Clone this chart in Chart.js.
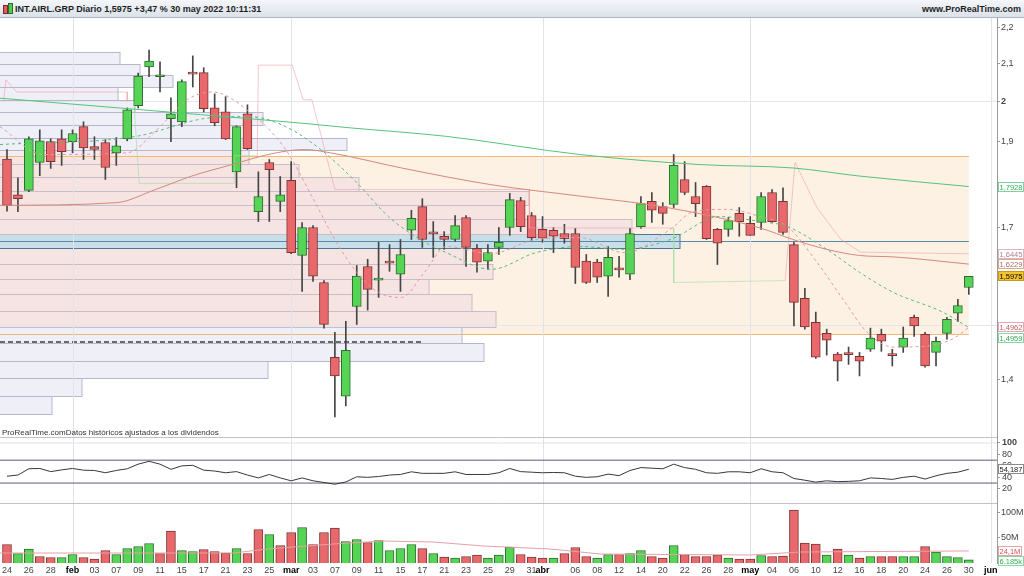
<!DOCTYPE html>
<html lang="es">
<head>
<meta charset="UTF-8">
<title>INT.AIRL.GRP Diario - ProRealTime</title>
<script src="https://cdn.jsdelivr.net/npm/chart.js"></script>
<style>
    body { margin: 0; width: 1024px; height: 576px; overflow: hidden; background: #fff; font-family: "Liberation Sans", Arial, sans-serif; }
    #head { position: absolute; left: 0; top: 0; width: 1024px; height: 17px; background: linear-gradient(#f4f6f9, #dce2ea); border-bottom: 1px solid #aab4c2; font-size: 9px; font-weight: bold; color: #1e1e1e; }
    #head .ttl { position: absolute; left: 15px; top: 4px; }
    #head .site { position: absolute; right: 3px; top: 4px; }
    #head .ico { position: absolute; left: 3px; top: 5px; width: 3px; height: 7px; background: #e5585c; border: 1px solid #7a2a2a; }
    #head .ico2 { left: 8px; top: 3px; height: 9px; background: #4fcf4f; border-color: #2a6a2a; }
    canvas { position: absolute; left: 0; }
    #cPrice { top: 18px; }
    #cRsi { top: 437px; }
    #cVol { top: 503px; }
</style>
</head>
<body>
<div id="head"><span class="ico"></span><span class="ico ico2"></span><span class="ttl">INT.AIRL.GRP Diario 1,5975 +3,47 % 30 may 2022 10:11:31</span><span class="site">www.ProRealTime.com</span></div>
<canvas id="cPrice" width="1024" height="419"></canvas>
<canvas id="cRsi" width="1024" height="66"></canvas>
<canvas id="cVol" width="1024" height="73"></canvas>
<script>
    // ---- daily candles, 24 ene -> 30 may 2022 (index = trading day) ----
    var openP = [1.857, 1.774, 1.784, 1.849, 1.899, 1.906, 1.899, 1.936, 1.887, 1.897,
        1.872, 1.906, 1.989, 2.090, 2.064, 1.956, 1.948, 2.072, 2.075, 1.983,
        1.973, 1.827, 1.968, 1.736, 1.849, 1.759, 1.807, 1.641, 1.701, 1.585,
        1.440, 1.370, 1.537, 1.618, 1.590, 1.627, 1.602, 1.695, 1.747, 1.688,
        1.682, 1.675, 1.723, 1.656, 1.629, 1.658, 1.701, 1.761, 1.727, 1.697,
        1.695, 1.688, 1.688, 1.629, 1.627, 1.598, 1.612, 1.602, 1.703, 1.759,
        1.747, 1.752, 1.809, 1.770, 1.793, 1.697, 1.697, 1.732, 1.710, 1.712,
        1.779, 1.759, 1.664, 1.553, 1.506, 1.485, 1.446, 1.446, 1.442, 1.455,
        1.483, 1.444, 1.459, 1.516, 1.483, 1.449, 1.485, 1.524, 1.575];
    var highP = [1.880, 1.813, 1.911, 1.928, 1.906, 1.928, 1.928, 1.948, 1.911, 1.904,
        1.909, 1.983, 2.074, 2.136, 2.104, 2.009, 2.056, 2.120, 2.088, 2.019,
        2.012, 1.938, 1.991, 1.827, 1.856, 1.816, 1.851, 1.712, 1.705, 1.589,
        1.487, 1.508, 1.620, 1.633, 1.669, 1.664, 1.675, 1.739, 1.765, 1.714,
        1.692, 1.727, 1.727, 1.664, 1.664, 1.701, 1.777, 1.768, 1.734, 1.725,
        1.701, 1.708, 1.699, 1.643, 1.633, 1.660, 1.639, 1.699, 1.770, 1.779,
        1.756, 1.868, 1.851, 1.802, 1.795, 1.699, 1.723, 1.745, 1.725, 1.779,
        1.786, 1.790, 1.669, 1.573, 1.526, 1.493, 1.449, 1.459, 1.449, 1.495,
        1.493, 1.455, 1.497, 1.520, 1.487, 1.478, 1.516, 1.551, 1.5975];
    var lowP = [1.737, 1.736, 1.781, 1.818, 1.835, 1.842, 1.872, 1.856, 1.856, 1.809,
        1.842, 1.901, 1.983, 2.064, 2.024, 1.899, 1.936, 2.037, 1.973, 1.938,
        1.904, 1.790, 1.880, 1.714, 1.714, 1.736, 1.645, 1.567, 1.587, 1.495,
        1.334, 1.353, 1.502, 1.530, 1.555, 1.608, 1.567, 1.675, 1.658, 1.637,
        1.654, 1.671, 1.618, 1.606, 1.612, 1.643, 1.684, 1.692, 1.673, 1.669,
        1.647, 1.667, 1.583, 1.583, 1.585, 1.557, 1.596, 1.591, 1.699, 1.712,
        1.708, 1.745, 1.774, 1.725, 1.675, 1.622, 1.682, 1.682, 1.684, 1.697,
        1.712, 1.686, 1.499, 1.493, 1.438, 1.444, 1.397, 1.427, 1.406, 1.451,
        1.451, 1.424, 1.449, 1.479, 1.422, 1.424, 1.474, 1.508, 1.561];
    var closeP = [1.750, 1.765, 1.906, 1.901, 1.851, 1.875, 1.919, 1.884, 1.880, 1.837,
        1.889, 1.978, 2.066, 2.106, 2.069, 1.968, 2.051, 2.071, 1.981, 1.946,
        1.906, 1.936, 1.882, 1.770, 1.832, 1.774, 1.647, 1.701, 1.598, 1.502,
        1.406, 1.453, 1.598, 1.571, 1.591, 1.625, 1.643, 1.721, 1.675, 1.687,
        1.675, 1.705, 1.658, 1.627, 1.647, 1.669, 1.763, 1.703, 1.679, 1.678,
        1.682, 1.677, 1.616, 1.585, 1.596, 1.637, 1.611, 1.688, 1.754, 1.739,
        1.732, 1.842, 1.779, 1.754, 1.677, 1.667, 1.716, 1.714, 1.684, 1.770,
        1.714, 1.690, 1.545, 1.497, 1.440, 1.472, 1.433, 1.445, 1.433, 1.476,
        1.470, 1.443, 1.476, 1.499, 1.424, 1.470, 1.512, 1.539, 1.5975];

    // volumen en millones
    var volM = [37, 19, 28, 13, 11, 11, 17, 11, 8, 25,
        17, 29, 33, 39, 19, 64, 25, 23, 27, 23,
        20, 29, 19, 67, 57, 35, 61, 71, 37, 61,
        70, 43, 47, 41, 45, 25, 29, 37, 29, 19,
        12, 10, 13, 16, 10, 16, 32, 17, 12, 10,
        10, 19, 31, 13, 10, 17, 17, 19, 25, 13,
        10, 35, 17, 13, 13, 16, 10, 8, 8, 15,
        13, 14, 106, 40, 38, 16, 28, 16, 10, 13,
        13, 13, 13, 13, 33, 22, 13, 11, 6.185];

    var rsiVal = [42, 44, 55, 55.5, 50, 53, 55.5, 52.5, 52, 48,
        52, 55, 63, 68, 63, 54, 60, 61, 52.5, 51,
        48, 50, 44, 39, 45, 39, 34, 39, 34, 31,
        28, 32, 41, 40, 41.5, 44, 45, 49.7, 47, 47,
        47, 49.7, 45, 45, 45, 48, 55.5, 50, 49, 48,
        48.5, 48, 42, 40, 41, 45.7, 43, 52, 57, 56,
        55, 63, 57, 54, 48, 47, 49.7, 49.7, 48, 55,
        49.7, 48, 38, 35, 31.7, 34, 32.5, 33, 34, 39,
        38, 36.4, 40, 42, 37, 42.7, 47, 49, 54.187];

    // medias y lineas: [indice, precio]
    var maLong = [[-0.64, 2.008], [8.5, 1.987], [17.7, 1.966], [26.8, 1.945], [31.4, 1.933], [40.2, 1.912],
        [52.4, 1.868], [63.4, 1.844], [71.9, 1.836], [78, 1.817], [88, 1.7928]];
    var maMid = [[-0.64, 1.750], [10, 1.756], [13.6, 1.786], [16.9, 1.817], [20.6, 1.844], [23.9, 1.868],
        [27.2, 1.880], [29.6, 1.872], [36.1, 1.836], [44.3, 1.797], [52.4, 1.771], [59.7, 1.748],
        [68.9, 1.700], [71.9, 1.675], [75, 1.654], [78, 1.641], [81.1, 1.638], [88, 1.6229]];
    var maSlow = [[-0.64, 1.892], [11.6, 1.911], [18.6, 1.958], [22.2, 1.961], [25.5, 1.936], [28.7, 1.880],
        [32, 1.802], [34.9, 1.725], [37.8, 1.675], [40.2, 1.647], [44.3, 1.612], [48.4, 1.647],
        [52.4, 1.660], [56.5, 1.654], [60.7, 1.675], [65.2, 1.725], [68.9, 1.714], [71.4, 1.703],
        [75, 1.654], [78, 1.606], [81.1, 1.565], [85.6, 1.526], [88, 1.4959]];
    var maFast = [[-0.64, 1.936], [3.3, 1.868], [11, 1.872], [13.7, 1.928], [16.5, 2.004], [18.8, 2.024],
        [22.2, 1.973], [25.5, 1.880], [27.9, 1.770], [30, 1.675], [32, 1.606], [34, 1.565],
        [36.1, 1.555], [38.2, 1.606], [40.2, 1.660], [44.3, 1.645], [48.4, 1.675], [52.4, 1.679],
        [56.5, 1.647], [60.7, 1.697], [62.8, 1.736], [65.9, 1.741], [68.9, 1.725], [71.4, 1.703],
        [74.1, 1.627], [76.5, 1.551], [78.7, 1.487], [81.1, 1.459], [84.2, 1.461], [86.5, 1.474], [88, 1.4962]];
    var stopPink = [
        [[-0.3, 2.000], [-0.1, 2.056], [0.9, 2.024], [11, 2.024], [11, 2.000]],
        [[22.9, 1.865], [23, 2.095], [26.1, 2.095], [27.1, 2.004], [27.9, 2.004], [30, 1.786], [47.8, 1.786], [47.8, 1.700], [61, 1.700]],
        [[71.2, 1.589], [72.1, 1.849], [74.1, 1.745], [76.3, 1.675], [78.1, 1.648], [88, 1.6445]]
    ];
    var stopGreen = [
        [[11.6, 2.000], [12.1, 1.800], [20.8, 1.800], [20.8, 1.865], [22.9, 1.865]],
        [[61, 1.700], [61, 1.585], [71.2, 1.589]]
    ];
    var volAvg = [[-0.64, 20], [20.7, 20], [23.8, 28], [29.8, 38], [34.4, 44], [39, 42], [43.6, 34],
        [49.7, 28], [54.3, 18], [68, 16], [72.6, 22], [88, 24.1]];

    // perfil de volumen por precio (bordes de tramo y volumen relativo)
    var profileEdges = [1.339, 1.370, 1.402, 1.434, 1.466, 1.497, 1.529, 1.561, 1.592, 1.624, 1.656, 1.687, 1.719,
        1.751, 1.783, 1.814, 1.846, 1.878, 1.909, 1.941, 1.973, 2.004, 2.036, 2.068, 2.099, 2.131];
    var profileVol = [5.2, 8.2, 26.9, 48.5, 46.3, 49.7, 47.3, 43, 49.4, 46.5, 68.2, 63.4, 52,
        53.1, 36, 30, 25, 34.8, 23, 26.4, 13.5, 11.8, 17.4, 14, 12];
    var vaFirst = 5, vaLast = 16, pocBin = 10;
    var vaHigh = 1.865, vaLow = 1.483, pocLevel = 1.672, dashLevel = 1.4687;

    // eje temporal
    var tickIdx = [0, 2, 4, 6, 8, 10, 12, 14, 16, 18, 20, 22, 24, 26, 28, 30, 32, 34, 36, 38, 40, 42, 44, 46, 48, 49,
        52, 54, 56, 58, 60, 62, 64, 66, 68, 70, 72, 74, 76, 78, 80, 82, 84, 86, 88, 90];
    var tickLab = ['24', '26', '28', 'feb', '03', '07', '09', '11', '15', '17', '21', '23', '25', 'mar', '03', '07', '09',
        '11', '15', '17', '21', '23', '25', '29', '31', 'abr', '06', '08', '12', '14', '20', '22', '26', '28', 'may',
        '04', '06', '10', '12', '16', '18', '20', '24', '26', '30', 'jun'];
    var monthIdx = [6, 26, 49, 68, 90];
    var priceTicks = [1.4, 1.5, 1.6, 1.7, 1.8, 1.9, 2, 2.1, 2.2];
    var priceLabels = [1.4, 1.7, 1.9, 2, 2.1, 2.2];
    var priceGrid = [2, 1.5];
    var rsiTicks = [20, 40, 60, 80, 100];
    var volTicks = [50, 100];

    var X_MIN = -0.64, X_MAX = 90.58, LAST = 88, AXIS_W = 27;
    var FONT = '"Liberation Sans", Arial, sans-serif';
    Chart.defaults.font.family = FONT;
    Chart.defaults.animation = false;

    var GREEN = '#55d455', GREEN_B = '#2f6a2f', RED = '#e8686b', RED_B = '#7e3434';

    function pts(arr) {
        return arr.map(function (p) { return { x: p[0], y: p[1] }; });
    }
    function comma(v, d) {
        return v.toFixed(d).replace('.', ',');
    }
    function lineDs(data, color, dash, width) {
        return { type: 'line', data: data, borderColor: color, borderWidth: width || 1, borderDash: dash || [],
            pointRadius: 0, tension: 0, order: 0 };
    }
    function smoothDs(data, color, dash) {
        var d = lineDs(data, color, dash);
        d.cubicInterpolationMode = 'monotone';
        return d;
    }
    // eje derecho estrecho y sin margen para las etiquetas extremas
    function fitWidth(s) {
        s.width = AXIS_W;
        s.paddingTop = 0; s.paddingBottom = 0;
    }
    function xScale(show) {
        return { type: 'linear', display: show, offset: false, min: X_MIN, max: X_MAX };
    }

    function drawMonths(chart) {
        var ctx = chart.ctx, a = chart.chartArea, x = chart.scales.x;
        ctx.save();
        ctx.strokeStyle = '#e2e2ea';
        ctx.lineWidth = 1;
        monthIdx.forEach(function (m) {
            var px = Math.round(x.getPixelForValue(m)) + 0.5;
            if (px > a.right) return;
            ctx.beginPath(); ctx.moveTo(px, a.top); ctx.lineTo(px, a.bottom); ctx.stroke();
        });
        ctx.restore();
    }

    function drawTags(chart, tags) {
        var ctx = chart.ctx, y = chart.scales.y, left = chart.chartArea.right + 1;
        var items = tags.map(function (t) { return Object.assign({ py: y.getPixelForValue(t.v) }, t); });
        items.sort(function (a, b) { return a.py - b.py; });
        for (var i = 1; i < items.length; i++) {
            if (items[i].py - items[i - 1].py < 10.5) items[i].py = items[i - 1].py + 10.5;
        }
        ctx.save();
        ctx.font = '7.5px ' + FONT;
        ctx.textBaseline = 'middle';
        items.forEach(function (t) {
            var top = Math.round(t.py - 5);
            var w = Math.min(Math.ceil(ctx.measureText(t.text).width) + 3, 1024 - left);
            ctx.fillStyle = t.bg || '#fff';
            ctx.fillRect(left, top, w, 10);
            ctx.strokeStyle = t.border;
            ctx.lineWidth = 1;
            ctx.strokeRect(left + 0.5, top + 0.5, w - 1, 9);
            ctx.fillStyle = t.color;
            ctx.fillText(t.text, left + 1.5, top + 5.5);
        });
        ctx.restore();
    }

    // ---------- panel de precios ----------
    var priceBack = {
        id: 'priceBack',
        beforeDatasetsDraw: function (chart) {
            var ctx = chart.ctx, a = chart.chartArea, x = chart.scales.x, y = chart.scales.y, xv = chart.scales.xv;
            var xl = a.left, xr = x.getPixelForValue(LAST);
            ctx.save();
            // zona de valor
            ctx.fillStyle = '#fdf1e4';
            ctx.fillRect(xl, y.getPixelForValue(vaHigh), xr - xl, y.getPixelForValue(vaLow) - y.getPixelForValue(vaHigh));
            // perfil de volumen
            profileVol.forEach(function (v, i) {
                var top = Math.round(y.getPixelForValue(profileEdges[i + 1])) + 0.5;
                var bot = Math.round(y.getPixelForValue(profileEdges[i])) + 0.5;
                var w = Math.round(xv.getPixelForValue(v) - xl);
                if (i === pocBin) {
                    ctx.fillStyle = '#c8dfe9'; ctx.strokeStyle = '#4f7592';
                } else if (i >= vaFirst && i <= vaLast) {
                    ctx.fillStyle = 'rgba(236,212,222,0.45)'; ctx.strokeStyle = '#c9bccb';
                } else {
                    ctx.fillStyle = '#efeff7'; ctx.strokeStyle = '#b6b6cc';
                }
                ctx.fillRect(xl, top, w, bot - top);
                ctx.lineWidth = 1;
                ctx.strokeRect(xl - 1, top, w + 1, bot - top);
            });
            // lineas horizontales
            ctx.lineWidth = 1;
            ctx.strokeStyle = '#5b87a8';
            var py = Math.round(y.getPixelForValue(pocLevel)) + 0.5;
            ctx.beginPath(); ctx.moveTo(xl, py); ctx.lineTo(xr, py); ctx.stroke();
            ctx.strokeStyle = '#f0b87a';
            [vaHigh, vaLow].forEach(function (lv) {
                var p = Math.round(y.getPixelForValue(lv)) + 0.5;
                ctx.beginPath(); ctx.moveTo(xl, p); ctx.lineTo(xr, p); ctx.stroke();
            });
            ctx.strokeStyle = '#e4e4ea';
            priceGrid.forEach(function (lv) {
                var p = Math.round(y.getPixelForValue(lv)) + 0.5;
                ctx.beginPath(); ctx.moveTo(xl, p); ctx.lineTo(a.right, p); ctx.stroke();
            });
            ctx.strokeStyle = '#6a6a6a';
            ctx.lineWidth = 2;
            ctx.setLineDash([5, 3]);
            var pd = Math.round(y.getPixelForValue(dashLevel));
            ctx.beginPath(); ctx.moveTo(xl, pd); ctx.lineTo(x.getPixelForValue(38.1), pd); ctx.stroke();
            ctx.restore();
            drawMonths(chart);
        },
        afterDraw: function (chart) {
            var ctx = chart.ctx, a = chart.chartArea;
            ctx.save();
            ctx.font = '8px ' + FONT;
            ctx.fillStyle = '#333';
            ctx.textBaseline = 'middle';
            ctx.fillText('ProRealTime.comDatos históricos ajustados a los dividendos', 2, a.bottom - 4);
            ctx.restore();
            drawTags(chart, [
                { v: maLong[maLong.length - 1][1], text: comma(maLong[maLong.length - 1][1], 4), color: '#36a85c', border: '#7fd296' },
                { v: stopPink[2][stopPink[2].length - 1][1], text: comma(stopPink[2][stopPink[2].length - 1][1], 4), color: '#b0848e', border: '#e2b6c0' },
                { v: maMid[maMid.length - 1][1], text: comma(maMid[maMid.length - 1][1], 4), color: '#b06d60', border: '#d9a89a' },
                { v: closeP[LAST], text: comma(closeP[LAST], 4), color: '#000', border: '#c8981c', bg: '#f4c430' },
                { v: maFast[maFast.length - 1][1], text: comma(maFast[maFast.length - 1][1], 4), color: '#c45a6a', border: '#e8a6b0' },
                { v: maSlow[maSlow.length - 1][1], text: comma(maSlow[maSlow.length - 1][1], 4), color: '#36a85c', border: '#8ad8a0' }
            ]);
        }
    };

    var idx = closeP.map(function (c, i) { return i; });
    var candleUp = idx.map(function (i) { return closeP[i] >= openP[i]; });
    var priceSets = [];
    priceSets.push(smoothDs(pts(maLong), '#52c47a'));
    priceSets.push(smoothDs(pts(maMid), '#d4897c'));
    priceSets.push(smoothDs(pts(maSlow), '#5cb878', [3, 3]));
    priceSets.push(smoothDs(pts(maFast), '#e49a9e', [3, 3]));
    stopPink.forEach(function (s) { priceSets.push(lineDs(pts(s), 'rgba(240,160,172,0.6)')); });
    stopGreen.forEach(function (s) { priceSets.push(lineDs(pts(s), 'rgba(160,222,160,0.6)')); });
    priceSets.push({
        type: 'bar', order: 1, grouped: false, barThickness: 9, minBarLength: 2, borderSkipped: false, borderWidth: 1,
        data: idx.map(function (i) { return { x: i, y: [Math.min(openP[i], closeP[i]), Math.max(openP[i], closeP[i])] }; }),
        backgroundColor: candleUp.map(function (u) { return u ? GREEN : RED; }),
        borderColor: candleUp.map(function (u) { return u ? GREEN_B : RED_B; })
    });
    priceSets.push({
        type: 'bar', order: 2, grouped: false, barThickness: 1, borderWidth: 0,
        data: idx.map(function (i) { return { x: i, y: [lowP[i], highP[i]] }; }),
        backgroundColor: '#454545'
    });

    new Chart(document.getElementById('cPrice'), {
        type: 'bar',
        data: { datasets: priceSets },
        options: {
            responsive: false,
            layout: { padding: 0, autoPadding: false },
            plugins: { legend: { display: false }, tooltip: { enabled: false } },
            scales: {
                x: xScale(false),
                xv: { type: 'linear', display: false, offset: false, min: 0, max: 100 },
                y: {
                    type: 'logarithmic', position: 'right', min: 1.3015, max: 2.2256,
                    afterBuildTicks: function (s) { s.ticks = priceTicks.map(function (v) { return { value: v }; }); },
                    afterFit: fitWidth,
                    border: { color: '#9a9a9a' },
                    grid: { drawOnChartArea: false, tickLength: 3, color: '#9a9a9a' },
                    ticks: {
                        padding: 1, color: '#444', autoSkip: false,
                        font: function (c) { return { size: 9, weight: c.tick && c.tick.value === 2 ? 'bold' : 'normal' }; },
                        callback: function (v) { return priceLabels.indexOf(v) >= 0 ? String(v).replace('.', ',') : ''; }
                    }
                }
            }
        },
        plugins: [priceBack]
    });

    // ---------- RSI ----------
    var rsiBack = {
        id: 'rsiBack',
        beforeDatasetsDraw: function (chart) {
            var ctx = chart.ctx, a = chart.chartArea;
            drawMonths(chart);
            ctx.save();
            ctx.strokeStyle = '#c2c2cc';
            ctx.beginPath(); ctx.moveTo(0, 0.5); ctx.lineTo(a.right, 0.5); ctx.stroke();
            ctx.restore();
        },
        afterDraw: function (chart) {
            // etiquetas del eje dibujadas aqui para que no se salte ninguna
            var ctx = chart.ctx, a = chart.chartArea, y = chart.scales.y;
            ctx.save();
            ctx.textBaseline = 'middle';
            ctx.fillStyle = '#444';
            rsiTicks.forEach(function (v) {
                ctx.font = (v === 100 ? 'bold ' : '') + '9px ' + FONT;
                ctx.fillText(String(v), a.right + 5, y.getPixelForValue(v));
            });
            ctx.restore();
            drawTags(chart, [{ v: rsiVal[LAST], text: comma(rsiVal[LAST], 3), color: '#222', border: '#8a8a8a' }]);
        }
    };
    new Chart(document.getElementById('cRsi'), {
        type: 'line',
        data: {
            datasets: [
                lineDs(idx.map(function (i) { return { x: i, y: rsiVal[i] }; }), '#383838'),
                lineDs([{ x: X_MIN, y: 70 }, { x: X_MAX, y: 70 }], '#5b5b80'),
                lineDs([{ x: X_MIN, y: 30 }, { x: X_MAX, y: 30 }], '#5b5b80'),
                lineDs([{ x: X_MIN, y: 100 }, { x: X_MAX, y: 100 }], '#e2e2e8')
            ]
        },
        options: {
            responsive: false,
            layout: { padding: 0, autoPadding: false },
            plugins: { legend: { display: false }, tooltip: { enabled: false } },
            scales: {
                x: xScale(false),
                y: {
                    position: 'right', min: -4.78, max: 110.43,
                    afterBuildTicks: function (s) { s.ticks = rsiTicks.map(function (v) { return { value: v }; }); },
                    afterFit: fitWidth,
                    border: { color: '#9a9a9a' },
                    grid: { drawOnChartArea: false, tickLength: 3, color: '#9a9a9a' },
                    ticks: { padding: 1, autoSkip: false, font: { size: 9 }, callback: function () { return ''; } }
                }
            }
        },
        plugins: [rsiBack]
    });

    // ---------- volumen ----------
    var volUp = idx.map(function (i) { return i === 0 ? closeP[0] >= openP[0] : closeP[i] >= closeP[i - 1]; });
    var volBack = {
        id: 'volBack',
        beforeDatasetsDraw: function (chart) {
            var ctx = chart.ctx, a = chart.chartArea;
            drawMonths(chart);
            ctx.save();
            ctx.strokeStyle = '#c2c2cc';
            ctx.beginPath(); ctx.moveTo(0, 0.5); ctx.lineTo(a.right, 0.5); ctx.stroke();
            ctx.restore();
        },
        afterDraw: function (chart) {
            drawTags(chart, [
                { v: volAvg[volAvg.length - 1][1], text: comma(volAvg[volAvg.length - 1][1], 1) + 'M', color: '#d04f55', border: '#e6a4a8' },
                { v: volM[LAST], text: '6.185k', color: '#36a85c', border: '#8ad8a0' }
            ]);
        }
    };
    var volX = xScale(true);
    volX.afterBuildTicks = function (s) { s.ticks = tickIdx.map(function (v) { return { value: v }; }); };
    volX.afterFit = function (s) { s.height = 13; s.paddingLeft = 0; s.paddingRight = 0; };
    volX.border = { display: false };
    volX.grid = { drawOnChartArea: false, drawTicks: false };
    volX.ticks = {
        autoSkip: false, maxRotation: 0, padding: 2,
        callback: function (v, i) { return tickLab[i]; },
        color: function (c) { return c.tick && monthIdx.indexOf(c.tick.value) >= 0 ? '#000' : '#444'; },
        font: function (c) { return { size: 9, weight: c.tick && monthIdx.indexOf(c.tick.value) >= 0 ? 'bold' : 'normal' }; }
    };
    new Chart(document.getElementById('cVol'), {
        type: 'bar',
        data: {
            datasets: [
                lineDs(pts(volAvg), '#e6a0a4'),
                {
                    type: 'bar', order: 1, grouped: false, barThickness: 9, borderWidth: 1, borderSkipped: 'bottom',
                    data: idx.map(function (i) { return { x: i, y: volM[i] }; }),
                    backgroundColor: volUp.map(function (u) { return u ? GREEN : RED; }),
                    borderColor: volUp.map(function (u) { return u ? GREEN_B : RED_B; })
                }
            ]
        },
        options: {
            responsive: false,
            layout: { padding: 0, autoPadding: false },
            plugins: { legend: { display: false }, tooltip: { enabled: false } },
            scales: {
                x: volX,
                y: {
                    position: 'right', min: 0, max: 120,
                    afterBuildTicks: function (s) { s.ticks = volTicks.map(function (v) { return { value: v }; }); },
                    afterFit: fitWidth,
                    border: { color: '#9a9a9a' },
                    grid: { drawOnChartArea: false, tickLength: 3, color: '#9a9a9a' },
                    ticks: { padding: 1, color: '#444', font: { size: 9 }, callback: function (v) { return v + 'M'; } }
                }
            }
        },
        plugins: [volBack]
    });
</script>
</body>
</html>
